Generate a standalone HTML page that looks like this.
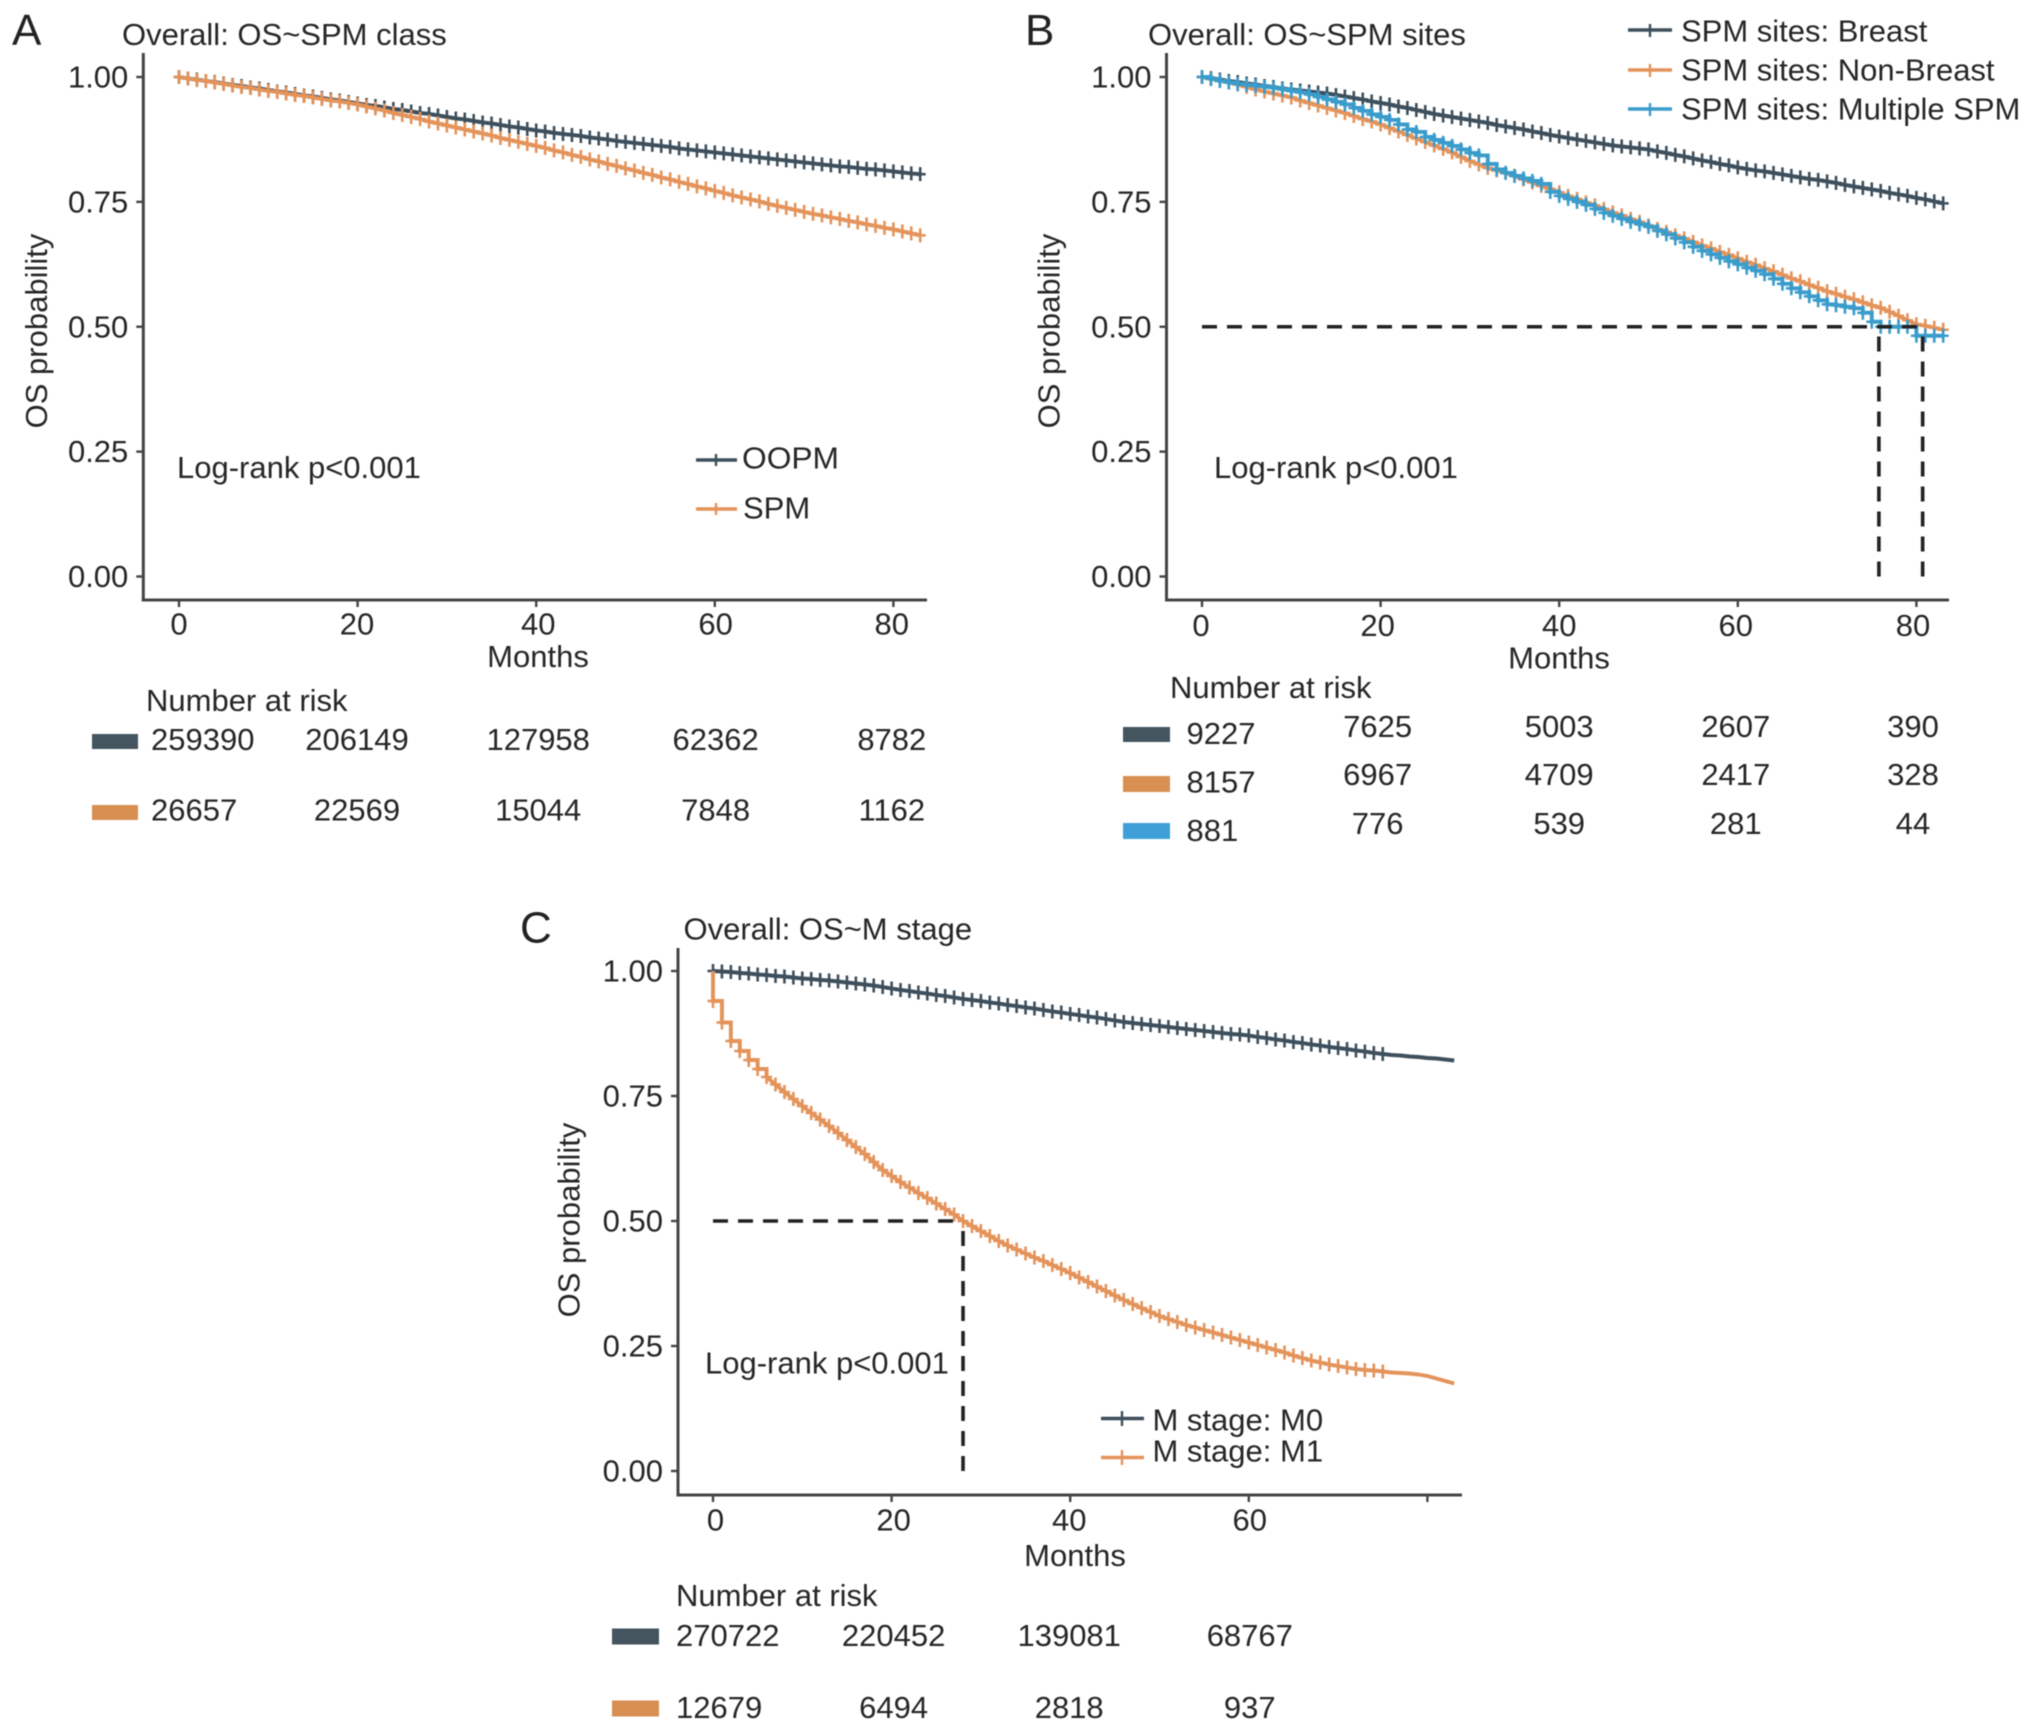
<!DOCTYPE html>
<html lang="en">
<head>
<meta charset="utf-8">
<title>Overall survival Kaplan-Meier curves</title>
<style>
html,body{margin:0;padding:0;background:#fff;}
svg{display:block;filter:blur(0.55px);}
text{font-family:"Liberation Sans",Arial,sans-serif;font-size:31px;fill:#262626;}
.letter{font-size:44px;fill:#222;}
</style>
</head>
<body>
<svg id="figure" xmlns="http://www.w3.org/2000/svg" width="2032" height="1730" viewBox="0 0 2032 1730">
  <rect x="0" y="0" width="2032" height="1730" fill="#fff"/>

  <g id="panel-a">
    <text class="letter" x="12" y="45">A</text>
    <text x="122" y="45">Overall: OS~SPM class</text>
    <text text-anchor="middle" transform="translate(47,331) rotate(-90)">OS probability</text>
    <text text-anchor="middle" x="538" y="667">Months</text>
    <text x="177" y="478">Log-rank p&lt;0.001</text>
    <text x="146" y="711">Number at risk</text>
    <g>
      <line x1="696" x2="737" y1="460" y2="460" stroke="#3d4f5c" stroke-width="3.4"/>
      <line x1="716" x2="716" y1="454" y2="466" stroke="#3d4f5c" stroke-width="2.4"/>
      <text x="742" y="468.5" textLength="97" lengthAdjust="spacingAndGlyphs">OOPM</text>
      <line x1="696" x2="737" y1="509" y2="509" stroke="#e4935a" stroke-width="3.4"/>
      <line x1="716" x2="716" y1="503" y2="515" stroke="#e4935a" stroke-width="2.4"/>
      <text x="743" y="518.5">SPM</text>
    </g>
    <rect x="92" y="734" width="46" height="15" fill="#45555f"/>
    <rect x="92" y="805" width="46" height="15" fill="#d98e52"/>
  </g>

  <g id="panel-b">
    <text class="letter" x="1025" y="45">B</text>
    <text x="1148" y="45">Overall: OS~SPM sites</text>
    <text text-anchor="middle" transform="translate(1059.5,331) rotate(-90)">OS probability</text>
    <text text-anchor="middle" x="1559" y="668.5">Months</text>
    <text x="1214" y="478">Log-rank p&lt;0.001</text>
    <text x="1170" y="698">Number at risk</text>
    <g>
      <line x1="1628" x2="1672" y1="30" y2="30" stroke="#3d4f5c" stroke-width="3.4"/>
      <line x1="1650" x2="1650" y1="24" y2="37" stroke="#3d4f5c" stroke-width="2.4"/>
      <text x="1681" y="41.5">SPM sites: Breast</text>
      <line x1="1628" x2="1672" y1="70" y2="70" stroke="#e4935a" stroke-width="3.4"/>
      <line x1="1650" x2="1650" y1="64" y2="77" stroke="#e4935a" stroke-width="2.4"/>
      <text x="1681" y="80.5">SPM sites: Non-Breast</text>
      <line x1="1628" x2="1672" y1="109" y2="109" stroke="#3a9ccb" stroke-width="3.4"/>
      <line x1="1650" x2="1650" y1="103" y2="116" stroke="#3a9ccb" stroke-width="2.4"/>
      <text x="1681" y="119.5">SPM sites: Multiple SPM</text>
    </g>
    <rect x="1123" y="727" width="47" height="15" fill="#45555f"/>
    <rect x="1123" y="776" width="47" height="16" fill="#d98e52"/>
    <rect x="1123" y="823" width="47" height="16" fill="#3fa0d8"/>
  </g>

  <g id="panel-c">
    <text class="letter" x="520" y="942.5">C</text>
    <text x="683.5" y="939.5">Overall: OS~M stage</text>
    <text text-anchor="middle" transform="translate(579.5,1220) rotate(-90)">OS probability</text>
    <text text-anchor="middle" x="1075" y="1566">Months</text>
    <text x="705" y="1373.5">Log-rank p&lt;0.001</text>
    <text x="676" y="1606">Number at risk</text>
    <g>
      <line x1="1101" x2="1144" y1="1418.5" y2="1418.5" stroke="#3d4f5c" stroke-width="3.4"/>
      <line x1="1122" x2="1122" y1="1411" y2="1426" stroke="#3d4f5c" stroke-width="2.4"/>
      <text x="1152.5" y="1430.5">M stage: M0</text>
      <line x1="1101" x2="1144" y1="1457.5" y2="1457.5" stroke="#e4935a" stroke-width="3.4"/>
      <line x1="1122" x2="1122" y1="1450" y2="1465" stroke="#e4935a" stroke-width="2.4"/>
      <text x="1152.5" y="1461.5">M stage: M1</text>
    </g>
    <rect x="612" y="1628.5" width="47" height="16" fill="#45555f"/>
    <rect x="612" y="1700.5" width="47" height="16" fill="#d98e52"/>
  </g>
</svg>
<script>
// ---------- Data: survival read at each whole month (index = month) ----------
const survivalOOPM = [1.000,.997,.995,.992,.990,.987,.984,.982,.979,.977,
.974,.971,.969,.966,.963,.961,.958,.955,.953,.950,
.947,.944,.942,.939,.936,.934,.931,.928,.926,.923,
.920,.917,.915,.912,.909,.907,.904,.901,.899,.896,
.893,.891,.888,.886,.884,.882,.879,.877,.875,.872,
.870,.868,.866,.864,.862,.860,.857,.855,.853,.851,
.849,.847,.845,.843,.841,.839,.837,.835,.833,.831,
.829,.827,.825,.823,.821,.820,.818,.816,.815,.813,
.811,.809,.807,.8055];
const survivalSPM = [1.000,.997,.994,.992,.989,.986,.983,.980,.978,.975,
.972,.970,.967,.964,.962,.959,.956,.953,.951,.948,
.945,.941,.937,.933,.928,.924,.920,.916,.911,.907,
.903,.899,.895,.891,.887,.883,.878,.874,.870,.866,
.862,.858,.853,.849,.844,.840,.835,.831,.826,.822,
.817,.813,.808,.804,.799,.795,.790,.786,.781,.777,
.772,.768,.763,.759,.755,.751,.746,.742,.738,.734,
.730,.726,.723,.719,.716,.712,.709,.705,.702,.698,
.695,.691,.687,.683];
const survivalBreast = [1.000,.998,.995,.992,.990,.987,.985,.982,.980,.977,
.975,.973,.971,.969,.967,.964,.961,.958,.955,.951,
.948,.945,.941,.938,.934,.930,.926,.923,.920,.917,
.914,.911,.908,.904,.901,.898,.895,.891,.888,.884,
.881,.878,.875,.872,.869,.866,.863,.861,.859,.857,
.855,.851,.848,.844,.841,.837,.833,.830,.826,.823,
.819,.816,.813,.811,.808,.805,.802,.799,.796,.794,
.791,.788,.784,.781,.778,.775,.772,.768,.765,.762,
.758,.755,.751,.747];
const survivalNonBreast = [1.000,.997,.993,.989,.985,.980,.975,.971,.967,.963,
.959,.953,.948,.943,.938,.933,.928,.922,.916,.911,
.905,.898,.891,.884,.877,.870,.863,.856,.849,.840,
.832,.825,.818,.813,.808,.802,.795,.789,.782,.776,
.769,.762,.756,.749,.743,.736,.729,.723,.716,.710,
.703,.696,.690,.683,.677,.670,.663,.657,.650,.644,
.637,.630,.624,.617,.611,.604,.597,.591,.584,.578,
.571,.566,.560,.555,.549,.543,.538,.530,.522,.513,
.505,.502,.498,.494];
const survivalMultiple = [1.000,.996,.992,.989,.986,.984,.982,.980,.978,.975,
.972,.969,.965,.960,.955,.950,.945,.938,.932,.925,
.920,.914,.905,.895,.890,.880,.874,.868,.862,.855,
.848,.843,.826,.815,.808,.802,.797,.792,.786,.770,
.762,.756,.750,.744,.736,.728,.722,.716,.710,.705,
.700,.692,.685,.677,.669,.660,.652,.645,.638,.631,
.625,.618,.612,.605,.596,.586,.577,.569,.561,.553,
.545,.543,.540,.537,.528,.510,.500,.500,.500,.500,
.482,.482,.482,.482];
const survivalM0 = [1.000,.999,.998,.996,.995,.993,.992,.990,.989,.987,
.985,.984,.982,.981,.979,.977,.975,.973,.971,.968,
.965,.962,.960,.957,.955,.952,.950,.947,.944,.942,
.940,.937,.935,.932,.930,.927,.925,.922,.919,.917,
.914,.912,.909,.907,.904,.901,.898,.896,.894,.892,
.890,.888,.886,.884,.882,.880,.878,.876,.874,.873,
.871,.868,.866,.863,.861,.858,.856,.853,.851,.848,
.846,.844,.841,.839,.836,.834,.832,.831,.829,.828,
.826,.825,.823,.821];
const survivalM1 = [.940,.897,.860,.840,.822,.804,.788,.773,.758,.744,
.730,.716,.703,.690,.676,.662,.648,.634,.618,.602,
.590,.578,.567,.556,.546,.535,.524,.513,.500,.490,
.480,.470,.460,.451,.443,.435,.427,.420,.412,.404,
.396,.387,.378,.369,.360,.351,.342,.334,.326,.318,
.310,.304,.298,.292,.287,.282,.277,.272,.267,.262,
.257,.252,.247,.242,.237,.231,.226,.221,.217,.213,
.210,.207,.204,.202,.201,.199,.197,.196,.195,.193,
.190,.185,.180,.175];

const yTickValues = [0, 0.25, 0.5, 0.75, 1];
const yTickLabels = ['0.00', '0.25', '0.50', '0.75', '1.00'];
const monthTicks = [0, 20, 40, 60, 80];
const monthLabels = ['0', '20', '40', '60', '80'];
const monthLabelsC = ['0', '20', '40', '60', ''];

const riskOOPM = ['259390', '206149', '127958', '62362', '8782'];
const riskSPM = ['26657', '22569', '15044', '7848', '1162'];
const riskBreast = ['9227', '7625', '5003', '2607', '390'];
const riskNonBreast = ['8157', '6967', '4709', '2417', '328'];
const riskMultiple = ['881', '776', '539', '281', '44'];
const riskM0 = ['270722', '220452', '139081', '68767'];
const riskM1 = ['12679', '6494', '2818', '937'];

const medianMonthsB = [75.8, 80.7];
const medianMonthsC = [28];

// ---------- Drawing ----------
const NS = 'http://www.w3.org/2000/svg';
const COLORS = {dark: '#3d4f5c', orange: '#e4935a', blue: '#3a9ccb', axis: '#444'};

function make(tag, parent, name) {
  const el = document.createElementNS(NS, tag);
  
  
  parent.appendChild(el);
  return el;
}
function line(parent, name, x1, y1, x2, y2, color, width, dash) {
  const el = make('line', parent, name);
  el.setAttribute('x1', x1);
  el.setAttribute('y1', y1);
  el.setAttribute('x2', x2);
  el.setAttribute('y2', y2);
  el.setAttribute('stroke', color);
  el.setAttribute('stroke-width', width);
  if (dash) el.setAttribute('stroke-dasharray', dash);
  return el;
}
function label(parent, name, x, y, str, anchor) {
  const el = make('text', parent, name);
  el.setAttribute('x', x);
  el.setAttribute('y', y);
  el.setAttribute('text-anchor', anchor);
  el.textContent = str;
  return el;
}

function drawPanel(p) {
  const root = document.getElementById(p.id);
  const sx = m => p.x0 + m * p.xPerMonth;
  const sy = s => p.y0 + (p.y1 - p.y0) * s;

  // axes
  const axes = make('g', root, 'axes');
  line(axes, 'y-axis-line', p.axisX, p.axisTop, p.axisX, p.axisBottom + 1.5, COLORS.axis, 3);
  line(axes, 'x-axis-line', p.axisX - 1.5, p.axisBottom, p.axisRight, p.axisBottom, COLORS.axis, 3);
  yTickValues.forEach((v, i) => {
    line(axes, 'y-tick', p.axisX - 7, sy(v), p.axisX, sy(v), COLORS.axis, 2.4);
    label(axes, 'y-tick-label', p.axisX - 15, sy(v) + 10.5, yTickLabels[i], 'end');
  });
  monthTicks.forEach((m, i) => {
    line(axes, 'x-tick', sx(m), p.axisBottom, sx(m), p.axisBottom + 7, COLORS.axis, 2.4);
    if (p.monthLabels[i]) label(axes, 'x-tick-label', sx(m) + p.labelShift[i], p.tickBaseline, p.monthLabels[i], 'middle');
  });

  // survival curves
  p.series.forEach(s => {
    const g = make('g', root, s.name + '-series');
    let d = 'M' + sx(0) + ' ' + sy(1);
    s.values.forEach((v, m) => {
      if (m <= s.stepUntil) d += 'H' + sx(m).toFixed(2) + 'V' + sy(v).toFixed(2);
      else d += 'L' + sx(m).toFixed(2) + ' ' + sy(v).toFixed(2);
    });
    const path = make('path', g, s.name + '-curve');
    path.setAttribute('d', d);
    path.setAttribute('fill', 'none');
    path.setAttribute('stroke', s.color);
    path.setAttribute('stroke-width', 3.9);
    s.values.forEach((v, m) => {
      if (m > s.censorEnd) return;
      const mark = make('path', g, 'censor-mark');
      const x = sx(m), y = sy(v);
      mark.setAttribute('d', 'M' + (x - 5.5) + ' ' + y + 'H' + (x + 5.5) + 'M' + x + ' ' + (y - 7) + 'V' + (y + 7));
      mark.setAttribute('fill', 'none');
      mark.setAttribute('stroke', s.color);
      mark.setAttribute('stroke-width', 2.6);
    });
  });

  // median guide lines
  if (p.medians) {
    const g = make('g', root, 'median-guides');
    const far = Math.max(...p.medians);
    line(g, 'median-horizontal-guide', sx(0), sy(0.5), sx(far), sy(0.5), '#222', 3.6, '15 10');
    p.medians.forEach(m => {
      line(g, 'median-vertical-guide', sx(m), sy(0), sx(m), sy(0.5), '#222', 3.6, '15 10');
    });
  }

  // risk table
  const table = make('g', root, 'risk-table');
  p.risk.forEach(r => {
    r.values.forEach((v, i) => {
      if (i === 0) label(table, 'risk-count', p.riskLeft, r.firstBaseline, v, 'start');
      else label(table, 'risk-count', sx(monthTicks[i]) + p.labelShift[i], r.baseline, v, 'middle');
    });
  });
}

drawPanel({
  id: 'panel-a', x0: 179, xPerMonth: 8.93, y1: 77, y0: 576.5,
  axisX: 143.3, axisTop: 53, axisBottom: 600, axisRight: 927,
  tickBaseline: 634.5, monthLabels: monthLabels, labelShift: [0, -0.6, 2, 0.8, -1.6], riskLeft: 151,
  series: [
    {name: 'oopm', values: survivalOOPM, color: COLORS.dark, censorEnd: 83, stepUntil: -1},
    {name: 'spm', values: survivalSPM, color: COLORS.orange, censorEnd: 83, stepUntil: -1}
  ],
  risk: [
    {values: riskOOPM, baseline: 750, firstBaseline: 750},
    {values: riskSPM, baseline: 820.5, firstBaseline: 820.5}
  ]
});
drawPanel({
  id: 'panel-b', x0: 1202, xPerMonth: 8.93, y1: 77, y0: 576.5,
  axisX: 1166.5, axisTop: 53, axisBottom: 600, axisRight: 1949,
  tickBaseline: 636, monthLabels: monthLabels, labelShift: [-1, -3, 0, -2, -3.4], riskLeft: 1186.5,
  series: [
    {name: 'breast', values: survivalBreast, color: COLORS.dark, censorEnd: 83, stepUntil: -1},
    {name: 'non-breast', values: survivalNonBreast, color: COLORS.orange, censorEnd: 83, stepUntil: -1},
    {name: 'multiple-spm', values: survivalMultiple, color: COLORS.blue, censorEnd: 83, stepUntil: 83}
  ],
  medians: medianMonthsB,
  risk: [
    {values: riskBreast, baseline: 737, firstBaseline: 744},
    {values: riskNonBreast, baseline: 785, firstBaseline: 792.5},
    {values: riskMultiple, baseline: 834, firstBaseline: 841}
  ]
});
drawPanel({
  id: 'panel-c', x0: 713, xPerMonth: 8.93, y1: 971, y0: 1471,
  axisX: 678, axisTop: 948, axisBottom: 1495, axisRight: 1462,
  tickBaseline: 1530.5, monthLabels: monthLabelsC, labelShift: [2.5, 2, -1, 1, 0], riskLeft: 676,
  series: [
    {name: 'm0', values: survivalM0, color: COLORS.dark, censorEnd: 75, stepUntil: -1},
    {name: 'm1', values: survivalM1, color: COLORS.orange, censorEnd: 75, stepUntil: 6}
  ],
  medians: medianMonthsC,
  risk: [
    {values: riskM0, baseline: 1646, firstBaseline: 1646},
    {values: riskM1, baseline: 1718, firstBaseline: 1718}
  ]
});
</script>
</body>
</html>
